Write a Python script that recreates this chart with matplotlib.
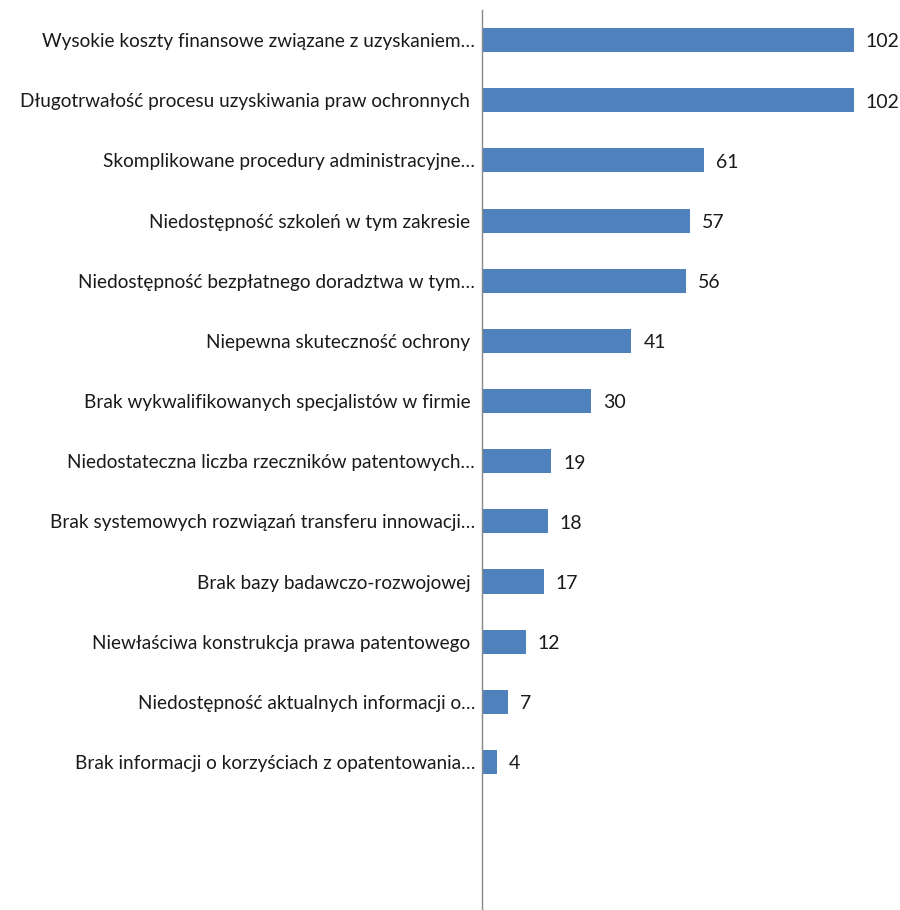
import matplotlib
matplotlib.use('Agg')
import matplotlib.pyplot as plt

labels = [
    'Wysokie koszty finansowe związane z uzyskaniem…',
    'Długotrwałość procesu uzyskiwania praw ochronnych ',
    'Skomplikowane procedury administracyjne…',
    'Niedostępność szkoleń w tym zakresie ',
    'Niedostępność bezpłatnego doradztwa w tym…',
    'Niepewna skuteczność ochrony ',
    'Brak wykwalifikowanych specjalistów w firmie ',
    'Niedostateczna liczba rzeczników patentowych…',
    'Brak systemowych rozwiązań transferu innowacji…',
    'Brak bazy badawczo-rozwojowej ',
    'Niewłaściwa konstrukcja prawa patentowego ',
    'Niedostępność aktualnych informacji o…',
    'Brak informacji o korzyściach z opatentowania…',
]
values = [102, 102, 61, 57, 56, 41, 30, 19, 18, 17, 12, 7, 4]

plt.rcParams['font.family'] = ['Lato', 'DejaVu Sans']

fig = plt.figure(figsize=(9, 9.1), dpi=100)
ax = fig.add_axes([482 / 900, 0, 408 / 900, 1 - 10 / 910])

pos = list(range(len(values)))
ax.barh(pos, values, height=0.4, color='#4F81BD')
for p, v in zip(pos, values):
    ax.text(v + 3.3, p + 0.03, str(v), va='center', ha='left', fontsize=14, color='#1a1a1a')

ax.set_xlim(0, 112)
ax.set_ylim(14.46, -0.5)
ax.set_yticks(pos)
ax.set_yticklabels(labels, fontsize=13.7, color='#1a1a1a')
ax.tick_params(axis='y', length=0, pad=5)
ax.set_xticks([])
for s in ['top', 'right', 'bottom']:
    ax.spines[s].set_visible(False)
ax.spines['left'].set_color('#888888')
ax.spines['left'].set_linewidth(1)

fig.savefig('out.png', dpi=100)
